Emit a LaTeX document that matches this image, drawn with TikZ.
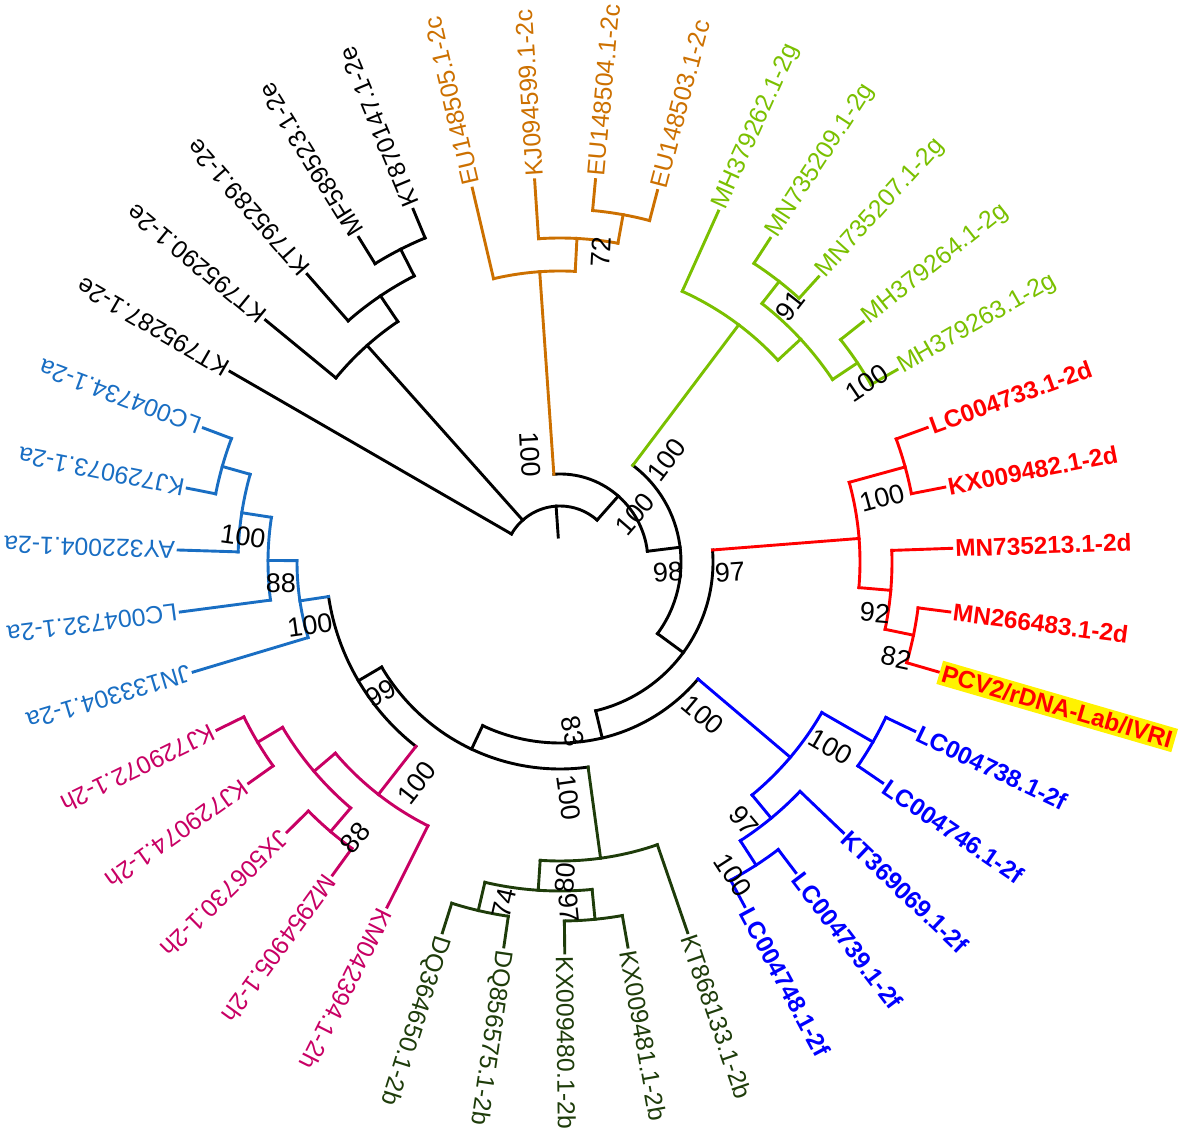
\documentclass[tikz,border=0pt]{standalone}
\usepackage{fontspec}
\setmainfont{Liberation Sans}

\definecolor{tr2c}{RGB}{204,112,0}
\definecolor{tr2g}{RGB}{122,192,0}
\definecolor{tr2d}{RGB}{255,0,0}
\definecolor{tr2f}{RGB}{0,0,255}
\definecolor{tr2b}{RGB}{30,60,10}
\definecolor{tr2h}{RGB}{200,0,100}
\definecolor{tr2a}{RGB}{25,110,195}

% stem: name, angle, inner radius, outer radius
\newcommand{\stem}[4]{%
  \coordinate (#1-in) at (#2:#3);
  \coordinate (#1) at (#2:#4);
  \draw (#1-in) -- (#1);}
% fan: first child, start angle, end angle, radius
\newcommand{\fan}[4]{%
  \draw (#1-in) arc[start angle=#2, end angle=#3, radius=#4];}
% leaf label: name, angle, text
\newcommand{\leaf}[3]{%
  \node[leaflab, rotate=#2] (#1-lab) at (#1) {#3};}

\begin{document}
\begin{tikzpicture}[x=0.5pt,y=0.5pt,line width=1.45pt,line cap=rect,
    leaflab/.style={anchor=west,inner sep=1pt,font=\fontsize{12.4}{15}\selectfont},
    boot/.style={inner sep=0pt,text=black,font=\fontsize{13.5}{15}\selectfont}]

  \useasboundingbox (-560,-571) rectangle (621,562);

  % backbone
  \coordinate (root) at (150:56);
  \draw (root) arc[start angle=150, end angle=48.5, radius=56];
  \stem{rt}{94}{56}{25}
  \stem{nc}{48.5}{56}{88}
  \draw (7:88) arc[start angle=7, end angle=94, radius=88];
  \stem{nd}{7}{88}{121}
  \draw (-36.3:121) arc[start angle=-36.3, end angle=53, radius=121];
  \stem{ne}{-36.3}{121}{153}
  \draw (-76.5:153) arc[start angle=-76.5, end angle=4.5, radius=153];
  \stem{nf}{-76.5}{153}{181}
  \draw (-115.3:181) arc[start angle=-115.3, end angle=-40.3, radius=181];
  \stem{ng}{-115.3}{181}{207}
  \draw (-149.5:207) arc[start angle=-149.5, end angle=-82.2, radius=207];
  \stem{nh}{-149.5}{207}{234}
  \draw (188.5:234) arc[start angle=188.5, end angle=232, radius=234];

  % 2e
  \stem{kt795287}{150}{56}{381}
  \stem{n3}{131.7}{56}{290}
  \stem{n2}{124}{290}{321}
  \fan{n2}{124}{140.6}{290}
  \stem{kt795290}{140.6}{290}{381}
  \stem{n1}{117}{321}{351}
  \fan{n1}{117}{131.3}{321}
  \stem{kt795289}{131.3}{321}{383}
  \stem{kt870147}{112.6}{351}{382}
  \stem{mf589523}{121.8}{351}{382}
  \fan{kt870147}{112.6}{121.8}{351}
  \leaf{kt795287}{150}{KT795287.1-2e}
  \leaf{kt795290}{140.6}{KT795290.1-2e}
  \leaf{kt795289}{131.3}{KT795289.1-2e}
  \leaf{mf589523}{121.8}{MF589523.1-2e}
  \leaf{kt870147}{112.6}{KT870147.1-2e}

  % 2c
  \begin{scope}[color=tr2c]
    \stem{o3}{94}{88}{291}
    \stem{o2}{87}{291}{324}
    \fan{o2}{87}{103.2}{291}
    \stem{eu148505}{103.2}{291}{384}
    \stem{o1}{79.7}{324}{353}
    \fan{o1}{79.7}{93.8}{324}
    \stem{kj094599}{93.8}{324}{383}
    \stem{eu148503}{75.3}{353}{384}
    \stem{eu148504}{84.7}{353}{384}
    \fan{eu148503}{75.3}{84.7}{353}
    \leaf{eu148505}{103.2}{EU148505.1-2c}
    \leaf{kj094599}{93.8}{KJ094599.1-2c}
    \leaf{eu148504}{84.7}{EU148504.1-2c}
    \leaf{eu148503}{75.3}{EU148503.1-2c}
  \end{scope}

  % 2g
  \begin{scope}[color=tr2g]
    \stem{g5}{53}{121}{297}
    \stem{g4}{42.8}{297}{328}
    \fan{g4}{42.8}{65.7}{297}
    \stem{mh379262}{65.7}{297}{385}
    \stem{g3}{33.8}{328}{358}
    \stem{g1}{52}{328}{356}
    \fan{g3}{33.8}{52}{328}
    \stem{mn735207}{47.8}{356}{385}
    \stem{mn735209}{57}{356}{386}
    \fan{mn735207}{47.8}{57}{356}
    \stem{mh379263}{29.7}{358}{388}
    \stem{mh379264}{38.4}{358}{387}
    \fan{mh379263}{29.7}{38.4}{358}
    \leaf{mh379262}{65.7}{MH379262.1-2g}
    \leaf{mn735209}{57}{MN735209.1-2g}
    \leaf{mn735207}{47.8}{MN735207.1-2g}
    \leaf{mh379264}{38.4}{MH379264.1-2g}
    \leaf{mh379263}{29.7}{MH379263.1-2g}
  \end{scope}

  % 2d
  \begin{scope}[color=tr2d,leaflab/.append style={font=\fontsize{12.2}{15}\selectfont\bfseries}]
    \stem{r2}{4.5}{153}{300}
    \stem{r3}{-4.9}{300}{332}
    \stem{r1}{15.4}{300}{358}
    \fan{r3}{-4.9}{15.4}{300}
    \stem{kx009482}{11}{358}{392}
    \stem{lc004733}{20.1}{358}{391}
    \fan{kx009482}{11}{20.1}{358}
    \stem{r4}{-11.7}{332}{361}
    \stem{mn735213}{2}{332}{392}
    \fan{r4}{-11.7}{2}{332}
    \stem{pcv2}{-16.2}{361}{394}
    \stem{mn266483}{-7.3}{361}{393}
    \fan{pcv2}{-16.2}{-7.3}{361}
    \leaf{lc004733}{20.1}{LC004733.1-2d}
    \leaf{kx009482}{11}{KX009482.1-2d}
    \leaf{mn735213}{2}{MN735213.1-2d}
    \leaf{mn266483}{-7.3}{MN266483.1-2d}
    \node[leaflab, rotate=-16.2, fill=yellow, inner sep=1.5pt] (pcv2-lab) at (pcv2) {PCV2/rDNA-Lab/IVRI};
  \end{scope}

  % 2f
  \begin{scope}[color=tr2f,leaflab/.append style={font=\fontsize{12.2}{15}\selectfont\bfseries}]
    \stem{b1}{-40.3}{181}{302}
    \stem{b3}{-50.5}{302}{332}
    \stem{b2}{-29.9}{302}{361}
    \fan{b3}{-50.5}{-29.9}{302}
    \stem{lc004746}{-34.4}{361}{391}
    \stem{lc004738}{-25.5}{361}{393}
    \fan{lc004746}{-34.4}{-25.5}{361}
    \stem{b4}{-57.1}{332}{361}
    \stem{kt369069}{-43.7}{332}{392}
    \fan{b4}{-57.1}{-43.7}{332}
    \stem{lc004748}{-61.8}{361}{391}
    \stem{lc004739}{-52.8}{361}{390}
    \fan{lc004748}{-61.8}{-52.8}{361}
    \leaf{lc004738}{-25.5}{LC004738.1-2f}
    \leaf{lc004746}{-34.4}{LC004746.1-2f}
    \leaf{kt369069}{-43.7}{KT369069.1-2f}
    \leaf{lc004739}{-52.8}{LC004739.1-2f}
    \leaf{lc004748}{-61.8}{LC004748.1-2f}
  \end{scope}

  % 2b
  \begin{scope}[color=tr2b]
    \stem{k1}{-82.2}{207}{299}
    \stem{k2}{-93.8}{299}{329}
    \fan{k2}{-93.8}{-71}{299}
    \stem{kt868133}{-71}{299}{392}
    \stem{k4}{-103.2}{329}{358}
    \stem{k3}{-84.4}{329}{359}
    \fan{k4}{-103.2}{-84.4}{329}
    \stem{kx009480}{-89.3}{359}{391}
    \stem{kx009481}{-80}{359}{391}
    \fan{kx009480}{-89.3}{-80}{359}
    \stem{dq364650}{-107.6}{358}{389}
    \stem{dq856575}{-98.3}{358}{389}
    \fan{dq364650}{-107.6}{-98.3}{358}
    \leaf{dq364650}{-107.6}{DQ364650.1-2b}
    \leaf{dq856575}{-98.3}{DQ856575.1-2b}
    \leaf{kx009480}{-89.3}{KX009480.1-2b}
    \leaf{kx009481}{-80}{KX009481.1-2b}
    \leaf{kt868133}{-71}{KT868133.1-2b}
  \end{scope}

  % 2h
  \begin{scope}[color=tr2h]
    \stem{m0}{-128}{234}{295}
    \stem{m2}{-139.6}{295}{323}
    \fan{m2}{-139.6}{-116.6}{295}
    \stem{km042394}{-116.6}{295}{386}
    \stem{m3}{-149.2}{323}{352}
    \stem{m4}{-130.4}{323}{354}
    \fan{m3}{-149.2}{-130.4}{323}
    \stem{kj729072}{-153.9}{352}{382}
    \stem{kj729074}{-144.6}{352}{382}
    \fan{kj729072}{-153.9}{-144.6}{352}
    \stem{jx506730}{-135.3}{354}{384}
    \stem{mz954905}{-126}{354}{387}
    \fan{jx506730}{-135.3}{-126}{354}
    \leaf{kj729072}{-153.9}{KJ729072.1-2h}
    \leaf{kj729074}{-144.6}{KJ729074.1-2h}
    \leaf{jx506730}{-135.3}{JX506730.1-2h}
    \leaf{mz954905}{-126}{MZ954905.1-2h}
    \leaf{km042394}{-116.6}{KM042394.1-2h}
  \end{scope}

  % 2a
  \begin{scope}[color=tr2a]
    \stem{a1}{188.5}{234}{263}
    \stem{a2}{179.7}{263}{292}
    \fan{a2}{179.7}{196.7}{263}
    \stem{jn133304}{196.7}{263}{383}
    \stem{a3}{171.2}{292}{322}
    \fan{a3}{171.2}{187.5}{292}
    \stem{lc004732}{187.5}{292}{383}
    \stem{a4}{164.2}{322}{351}
    \fan{a4}{164.2}{178.2}{322}
    \stem{ay322004}{178.2}{322}{382}
    \stem{lc004734}{159.4}{351}{381}
    \stem{kj729073}{168.8}{351}{380}
    \fan{lc004734}{159.4}{168.8}{351}
    \leaf{lc004734}{159.4}{LC004734.1-2a}
    \leaf{kj729073}{168.8}{KJ729073.1-2a}
    \leaf{ay322004}{178.2}{AY322004.1-2a}
    \leaf{lc004732}{187.5}{LC004732.1-2a}
    \leaf{jn133304}{196.7}{JN133304.1-2a}
  \end{scope}

  % bootstrap values
  \node[boot, rotate=-87] (bs-o3) at (-30,107) {100};
  \node[boot, rotate=53] (bs-g5) at (107,102) {100};
  \node[boot, rotate=49] (bs-nc) at (75,48) {100};
  \node[boot, rotate=5] (bs-nd) at (108,-10) {98};
  \node[boot, rotate=4] (bs-r2) at (170,-10) {97};
  \node[boot, rotate=87] (bs-o2) at (41,310) {72};
  \node[boot, rotate=52] (bs-g1) at (230,256) {91};
  \node[boot, rotate=34] (bs-g3) at (307,179) {100};
  \node[boot, rotate=15] (bs-r1) at (322,64) {100};
  \node[boot, rotate=-5] (bs-r3) at (315,-51) {92};
  \node[boot, rotate=-12] (bs-r4) at (336,-96) {82};
  \node[boot, rotate=-40] (bs-b1) at (143,-153) {100};
  \node[boot, rotate=-30] (bs-b2) at (271,-185) {100};
  \node[boot, rotate=-50] (bs-b3) at (184,-259) {97};
  \node[boot, rotate=-57] (bs-b4) at (173,-313) {100};
  \node[boot, rotate=-77] (bs-nf) at (13,-169) {83};
  \node[boot, rotate=-82] (bs-k1) at (9,-236) {100};
  \node[boot, rotate=77] (bs-k4) at (-56,-341) {74};
  \node[boot, rotate=86] (bs-k2) at (5,-316) {80};
  \node[boot, rotate=-84] (bs-k3) at (9,-346) {97};
  \node[boot, rotate=30] (bs-nh) at (-179,-131) {99};
  \node[boot, rotate=52] (bs-m0) at (-143,-221) {100};
  \node[boot, rotate=50] (bs-m4) at (-205,-276) {88};
  \node[boot, rotate=-8] (bs-a3) at (-317,26) {100};
  \node[boot, rotate=0] (bs-a2) at (-279,-21) {88};
  \node[boot, rotate=8] (bs-a1) at (-250,-63) {100};

\end{tikzpicture}
\end{document}
